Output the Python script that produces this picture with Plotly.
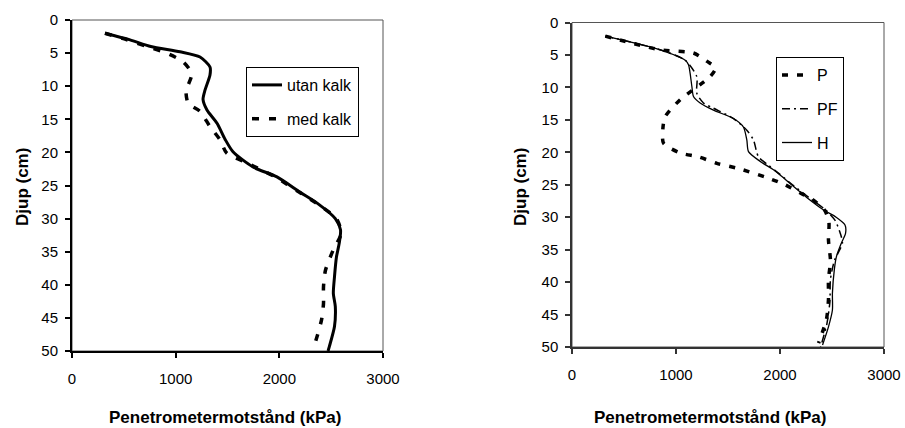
import plotly.graph_objects as go

# ---- data (depth in cm, resistance in kPa) ----
utan_depth = [2, 3.0, 4.0, 4.8, 5.6, 7.1, 8.3, 10.6, 12, 13.6, 15.6, 18, 19.9, 22.2, 23.7, 26, 27.7,
              30, 31.7, 33.7, 35.8, 38.8, 41.3, 43.3, 46.3, 49.3, 50]
utan_kpa = [318, 560, 760, 1042, 1235, 1331, 1331, 1283, 1264, 1302, 1399, 1476, 1553, 1746, 1977, 2199, 2368,
            2540, 2590, 2578, 2551, 2532, 2521, 2540, 2532, 2483, 2470]

med_depth = [2, 2.9, 4.0, 4.9, 6.3, 8.1, 9.8, 10.6, 12.6, 13.8, 16.1, 18.1, 20.1, 21.6, 23.7, 26, 27.7,
             30, 32.2, 34.7, 37.8, 40.3, 42.8, 45.3, 48.6, 49.5]
med_kpa = [318, 511, 720, 897, 1071, 1155, 1121, 1100, 1121, 1235, 1331, 1428, 1492, 1688, 1960, 2190, 2360,
           2550, 2597, 2521, 2445, 2426, 2426, 2407, 2349, 2330]

P_depth = [2.1, 4.2, 4.7, 6.0, 7.0, 8.3, 11.9, 14.5, 16.3, 18.6, 20.1, 20.7, 21.7, 22.5, 23.8, 25, 26.3,
           27.3, 28.9, 30.7, 33.5, 36.7, 39.6, 42.7, 45.7, 49.4]
P_kpa = [320, 848, 1168, 1300, 1380, 1330, 1040, 896, 874, 880, 1040, 1216, 1393, 1600, 1857, 2048, 2200,
         2314, 2428, 2470, 2466, 2485, 2466, 2466, 2447, 2371]

PF_depth = [2.1, 4.2, 5.8, 8.35, 10.9, 12.4, 13.2, 14.8, 16.6, 18.1, 20.7, 22, 23.2, 25, 27, 28.9, 30.5,
            32.5, 34, 36.7, 39.6, 43, 46.5, 50]
PF_kpa = [320, 848, 1088, 1200, 1200, 1264, 1360, 1553, 1681, 1745, 1793, 1889, 1985, 2120, 2280, 2440, 2530,
          2580, 2600, 2523, 2485, 2480, 2450, 2390]

H_depth = [2.1, 4.2, 5.8, 6.5, 9.9, 11.4, 12.4, 13.5, 14.8, 16.1, 18.1, 19.9, 21.4, 22.7, 23.5, 25, 27,
           28.9, 30, 31.2, 32.5, 34, 36.1, 38, 41.7, 44.3, 46.9, 49.7]
H_kpa = [320, 848, 1088, 1120, 1153, 1168, 1232, 1360, 1553, 1648, 1681, 1697, 1809, 1937, 2001, 2110, 2260,
         2420, 2540, 2625, 2630, 2590, 2542, 2523, 2504, 2504, 2466, 2409]

x_ticks = [0, 1000, 2000, 3000]
y_ticks = [0, 5, 10, 15, 20, 25, 30, 35, 40, 45, 50]

x_title = "Penetrometermotstånd (kPa)"
y_title = "Djup (cm)"

FONT = "Liberation Sans, Arial, sans-serif"
W, H = 905, 428

fig = go.Figure()

def add(x, y, name, xa, ya, width, dash, legend, group):
    fig.add_trace(go.Scatter(
        x=x, y=y, name=name, mode="lines", xaxis=xa, yaxis=ya,
        line=dict(color="black", width=width, dash=dash, shape="spline", smoothing=0.7),
        legend=legend, legendgroup=group, showlegend=True))

add(utan_kpa, utan_depth, "utan kalk", "x", "y", 3, "solid", "legend", "a")
add(med_kpa, med_depth, "med kalk", "x", "y", 3.5, "7px,10px", "legend", "b")
add(P_kpa, P_depth, "P", "x2", "y2", 3.5, "6px,9px", "legend2", "c")
add(PF_kpa, PF_depth, "PF", "x2", "y2", 1.5, "8px,4px,2px,4px", "legend2", "d")
add(H_kpa, H_depth, "H", "x2", "y2", 1.3, "solid", "legend2", "e")

def px(v):
    return v / W

def py(v):
    return 1 - v / H

tickfont = dict(family=FONT, size=15, color="black")

def xaxis(dom, anchor, lc, lw):
    return dict(domain=dom, anchor=anchor, range=[0, 3000], tickvals=x_ticks,
                ticks="outside", ticklen=5, tickwidth=1.5, tickcolor=lc,
                showline=True, linecolor=lc, linewidth=lw, showgrid=False,
                zeroline=False, tickfont=tickfont, ticklabelstandoff=8,
                automargin=False, fixedrange=True)

def yaxis(dom, anchor, lc, lw):
    return dict(domain=dom, anchor=anchor, range=[50, 0], tickvals=y_ticks,
                ticks="outside", ticklen=5, tickwidth=1.5, tickcolor=lc,
                showline=True, linecolor=lc, linewidth=lw, showgrid=False,
                zeroline=False, tickfont=tickfont, ticklabelstandoff=4,
                automargin=False, fixedrange=True)

fig.update_layout(
    width=W, height=H,
    margin=dict(l=0, r=0, t=0, b=0),
    paper_bgcolor="white", plot_bgcolor="white",
    font=dict(family=FONT, color="black"),
    xaxis=xaxis([px(72), px(383)], "y", "black", 2),
    yaxis=yaxis([py(351), py(20)], "x", "black", 2),
    xaxis2=xaxis([px(572), px(884)], "y2", "#333333", 1.5),
    yaxis2=yaxis([py(347), py(22.5)], "x2", "#333333", 1.5),
    legend=dict(x=px(246), y=py(67), xanchor="left", yanchor="top",
                bordercolor="black", borderwidth=1, bgcolor="white",
                font=dict(family=FONT, size=16, color="black"),
                tracegroupgap=10, itemclick=False, itemdoubleclick=False),
    legend2=dict(x=px(776), y=py(57), xanchor="left", yanchor="top",
                 bordercolor="black", borderwidth=1, bgcolor="white",
                 font=dict(family=FONT, size=16, color="black"),
                 tracegroupgap=10, itemclick=False, itemdoubleclick=False),
    showlegend=True,
)

# thin plot-area frames
for xr, yr in [("x domain", "y domain"), ("x2 domain", "y2 domain")]:
    fig.add_shape(type="rect", xref=xr, yref=yr, x0=0, x1=1, y0=0, y1=1,
                  line=dict(color="#555555", width=1), layer="below")

titlefont = dict(family=FONT, size=17, color="black", weight="bold")
for xc, yc in [(225, 417), (710, 417)]:
    fig.add_annotation(x=px(xc), y=py(yc), xref="paper", yref="paper", text=x_title,
                       showarrow=False, font=titlefont, xanchor="center", yanchor="middle")
for xc, yc in [(22, 187), (520, 187)]:
    fig.add_annotation(x=px(xc), y=py(yc), xref="paper", yref="paper", text=y_title,
                       showarrow=False, font=titlefont, textangle=-90,
                       xanchor="center", yanchor="middle")

fig.write_html("out.html")
